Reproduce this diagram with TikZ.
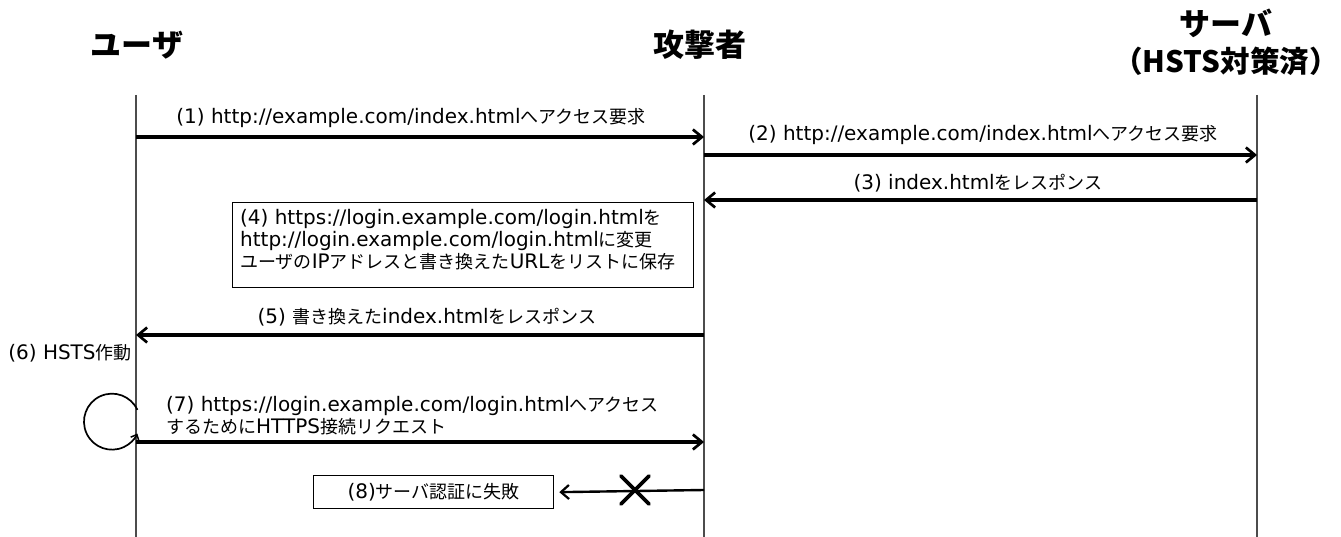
\documentclass[tikz,border=0pt]{standalone}
\usepackage{fontspec}
\setmainfont{Noto Sans CJK JP}
\newfontfamily\lt{DejaVu Sans}[Scale=1.11]
\usetikzlibrary{arrows.meta}
\tikzset{
  lifeline/.style={draw=black!70, line width=1.1pt},
  msg/.style={line width=3.1pt, -{Straight Barb[length=9pt,width=15pt,line width=2.7pt]}},
  msglabel/.style={font=\fontsize{18}{22}\selectfont, inner sep=0pt},
  actor/.style={font=\fontsize{31}{35}\selectfont\bfseries, inner sep=0pt},
  notebox/.style={draw, line width=1.3pt, inner sep=0pt},
  loopline/.style={line width=1.7pt, -{Straight Barb[length=5pt,width=9pt,line width=1.5pt]}},
  crossmark/.style={line width=3.8pt, line cap=round}
}
\begin{document}
\begin{tikzpicture}[x=1pt,y=-1pt]
\useasboundingbox (0,0) rectangle (1341,537);

% actors
\node[actor] (user) at (137,45) {ユーザ};
\node[actor] (attacker) at (700,45) {攻撃者};
\node[actor] (server) at (1226,23) {サーバ};
\node[actor, font=\fontsize{29.5}{34}\selectfont\bfseries] (serverB) at (1226,61) {（HSTS対策済）};

% lifelines
\coordinate (uT) at (136,95);  \coordinate (uB) at (136,537);
\coordinate (aT) at (704,95);  \coordinate (aB) at (704,537);
\coordinate (sT) at (1257,95); \coordinate (sB) at (1257,537);
\draw[lifeline] (uT) -- (uB);
\draw[lifeline] (aT) -- (aB);
\draw[lifeline] (sT) -- (sB);

% (1)
\coordinate (u1) at (136,137); \coordinate (a1) at (704,137);
\draw[msg] (u1) -- (a1);
\node[msglabel] (l1) at (411,118) {\lt (1) http://example.com/index.html\normalfont へアクセス要求};

% (2)
\coordinate (a2) at (704,155); \coordinate (s2) at (1257,155);
\draw[msg] (a2) -- (s2);
\node[msglabel] (l2) at (983,135) {\lt (2) http://example.com/index.html\normalfont へアクセス要求};

% (3)
\coordinate (s3) at (1257,200); \coordinate (a3) at (704,200);
\draw[msg] (s3) -- (a3);
\node[msglabel] (l3) at (978,183) {\lt (3) index.html\normalfont をレスポンス};

% (4)
\node[notebox, minimum width=461pt, minimum height=85pt, anchor=north west] (box4) at (232,202) {};
\node[msglabel, anchor=west, align=left] (t4) at (240,240)
  {{\lt (4) https://login.example.com/login.html}を\\
   {\lt http://login.example.com/login.html}に変更\\
   ユーザの{\lt IP}アドレスと書き換えた{\lt URL}をリストに保存};

% (5)
\coordinate (a5) at (704,335); \coordinate (u5) at (136,335);
\draw[msg] (a5) -- (u5);
\node[msglabel] (l5) at (427,317) {{\lt (5) }書き換えた{\lt index.html}をレスポンス};

% (6)
\node[msglabel] (l6) at (70,353) {{\lt (6) HSTS}作動};
\coordinate (c6) at (112,398);
\draw[loopline] ([shift={(25:28)}]c6) arc[start angle=-25, end angle=-335, radius=28];

% (7)
\coordinate (u7) at (136,442); \coordinate (a7) at (704,442);
\draw[msg] (u7) -- (a7);
\node[msglabel, anchor=west, align=left] (l7) at (166,416)
  {{\lt (7) https://login.example.com/login.html}へアクセス\\
   するために{\lt HTTPS}接続リクエスト};

% (8)
\node[notebox, minimum width=240pt, minimum height=33pt, anchor=north west] (box8) at (313,475) {};
\node[msglabel] (t8) at (box8.center) {{\lt (8)}サーバ認証に失敗};
\coordinate (a8) at (704,490);
\draw[line width=2.4pt, -{Straight Barb[length=8pt,width=14pt,line width=2.2pt]}] (a8) -- ([xshift=5pt]box8.east);
\coordinate (x8) at (635,490);
\draw[crossmark] ([shift={(-14,-14)}]x8) -- ([shift={(14,14)}]x8);
\draw[crossmark] ([shift={(-14,14)}]x8) -- ([shift={(14,-14)}]x8);
\end{tikzpicture}
\end{document}
